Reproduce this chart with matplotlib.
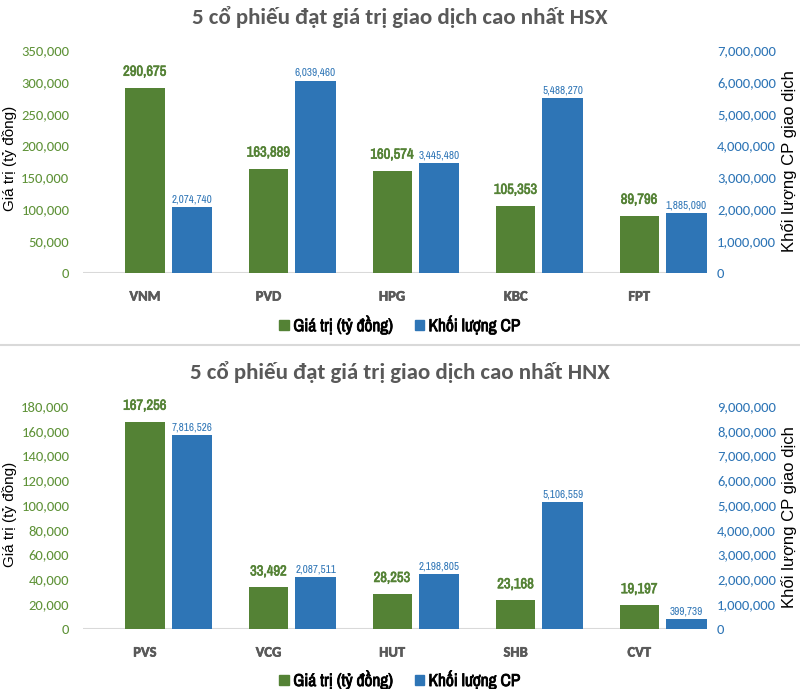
import matplotlib
matplotlib.use('Agg')
import matplotlib.pyplot as plt
import matplotlib.ticker as mticker
import matplotlib.patheffects as pe
from matplotlib.lines import Line2D
from matplotlib.patches import Patch
import numpy as np

# data
hsx_tickers = ['VNM', 'PVD', 'HPG', 'KBC', 'FPT']
hsx_value = [290675, 163889, 160574, 105353, 89796]
hsx_volume = [2074740, 6039460, 3445480, 5488270, 1885090]

hnx_tickers = ['PVS', 'VCG', 'HUT', 'SHB', 'CVT']
hnx_value = [167256, 33492, 28253, 23168, 19197]
hnx_volume = [7816526, 2087511, 2198805, 5106559, 399739]

GREEN = '#548235'
BLUE = '#2e75b6'
TITLE_GRAY = '#595959'
NARROW = ['Liberation Sans Narrow', 'Archivo Narrow', 'DejaVu Sans']
CALIBRI = ['Carlito', 'Lato', 'DejaVu Sans']
ARIAL = ['Liberation Sans', 'DejaVu Sans']


def fake_bold(color, w=0.5):
    # narrow font has no bold face here, thicken it with a stroke
    return [pe.withStroke(linewidth=w, foreground=color)]


fig = plt.figure(figsize=(8.0, 6.89), dpi=100)


def draw_panel(bottom, tickers, values, volumes, title, left_max, left_step,
               right_max, right_step, title_y, legend_y):
    ax = fig.add_axes([0.104, bottom, 0.78, 0.3237])
    ax2 = ax.twinx()
    x = np.arange(len(tickers))
    ax.bar(x, values, width=0.316, color=GREEN, zorder=3)
    ax2.bar(x + 0.38, volumes, width=0.33, color=BLUE, zorder=3)

    ax.set_xlim(-0.5, 4.55)
    ax.set_ylim(0, left_max)
    ax2.set_ylim(0, right_max)
    ax.set_yticks(np.arange(0, left_max + 1, left_step))
    ax2.set_yticks(np.arange(0, right_max + 1, right_step))
    fmt = mticker.FuncFormatter(lambda v, p: f'{int(v):,}')
    ax.yaxis.set_major_formatter(fmt)
    ax2.yaxis.set_major_formatter(fmt)

    ax.set_xticks(x)
    ax.set_xticklabels(tickers, fontsize=10.5, fontweight='bold',
                       color=TITLE_GRAY, family=CALIBRI)
    for lab in ax.get_xticklabels():
        lab.set_path_effects(fake_bold(TITLE_GRAY, 0.4))
    ax.tick_params(axis='x', length=0, pad=12)
    ax.tick_params(axis='y', length=0, pad=10, labelcolor='#5e9237', labelsize=10.5)
    ax2.tick_params(axis='y', length=0, pad=7, labelcolor=BLUE, labelsize=10.5)
    for lab in ax.get_yticklabels() + ax2.get_yticklabels():
        lab.set_family(CALIBRI)

    for a in (ax, ax2):
        for s in a.spines.values():
            s.set_visible(False)
    ax.axhline(0, color='#d9d9d9', lw=1.5, zorder=2)

    for xi, v in zip(x, values):
        ax.annotate(f'{v:,}', (xi, v), xytext=(0, 6.5), textcoords='offset points',
                    ha='center', va='bottom', color=GREEN, fontsize=10.5,
                    fontweight='bold', family=NARROW, path_effects=fake_bold(GREEN, 0.45))
    for xi, v in zip(x, volumes):
        ax2.annotate(f'{v:,}', (xi + 0.38, v), xytext=(0, 2), textcoords='offset points',
                     ha='center', va='bottom', color=BLUE, fontsize=8, family=NARROW)

    top = bottom + 0.3237
    mid = (bottom + top) / 2
    fig.text(0.012, mid + 0.005, 'Giá trị (tỷ đồng)', rotation=90, ha='center',
             va='center', fontsize=11, family=ARIAL)
    fig.text(0.986, mid, 'Khối lượng CP giao dịch', rotation=90, ha='center',
             va='center', fontsize=12, family=ARIAL)
    fig.text(0.5, title_y, title, ha='center', va='center', fontsize=16.5,
             fontweight='bold', color=TITLE_GRAY, family=CALIBRI)

    handles = [Patch(color=GREEN), Patch(color=BLUE)]
    leg = fig.legend(handles, ['Giá trị (tỷ đồng)', 'Khối lượng CP'], loc='center',
                     bbox_to_anchor=(0.5, legend_y), ncol=2, frameon=False,
                     handlelength=0.55, handleheight=0.55, handletextpad=0.25,
                     columnspacing=1.2,
                     prop={'family': NARROW, 'weight': 'bold', 'size': 12.5})
    for t in leg.get_texts():
        t.set_path_effects(fake_bold('black', 0.6))


draw_panel(0.6038, hsx_tickers, hsx_value, hsx_volume,
           '5 cổ phiếu đạt giá trị giao dịch cao nhất HSX',
           350000, 50000, 7000000, 1000000, 0.975, 0.528)
draw_panel(0.0871, hnx_tickers, hnx_value, hnx_volume,
           '5 cổ phiếu đạt giá trị giao dịch cao nhất HNX',
           180000, 20000, 9000000, 1000000, 0.46, 0.013)

fig.add_artist(Line2D([0, 1], [1 - 345 / 689, 1 - 345 / 689], color='#d9d9d9',
                      lw=1.5, transform=fig.transFigure))

fig.savefig('out.png', dpi=100)
